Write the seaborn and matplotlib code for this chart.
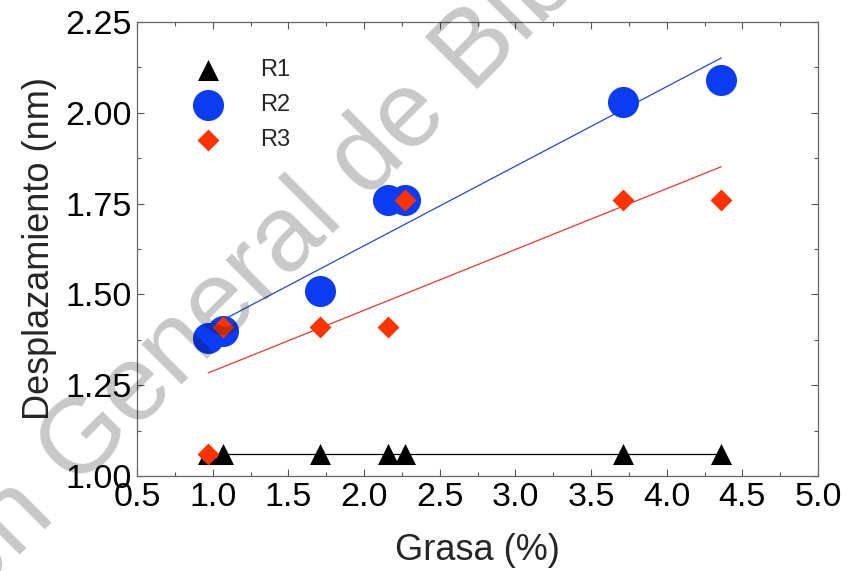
import numpy as np
import pandas as pd
import matplotlib
matplotlib.use("Agg")
import matplotlib.pyplot as plt
import seaborn as sns
from matplotlib.ticker import MultipleLocator, FormatStrFormatter

# data
grasa = [0.97, 1.07, 1.71, 2.16, 2.27, 3.71, 4.36]
r1 = [1.06, 1.06, 1.06, 1.06, 1.06, 1.06, 1.06]
r2 = [1.38, 1.40, 1.51, 1.76, 1.76, 2.03, 2.09]
r3 = [1.06, 1.41, 1.41, 1.41, 1.76, 1.76, 1.76]
series_names = ["R1", "R2", "R3"]

df = pd.DataFrame({"grasa": grasa, "R1": r1, "R2": r2, "R3": r3})

sns.set_theme(style="ticks")
plt.rcParams["font.family"] = ["Liberation Sans", "DejaVu Sans"]

fig = plt.figure(figsize=(8.46, 5.71), dpi=100)
ax = fig.add_axes([0.162, 0.1664, 0.805, 0.7951])

# marker / colour per series
styles = {
    "R1": dict(marker="^", s=230, color="black", line="black", z=3),
    "R2": dict(marker="o", s=500, color="#0b3cf2", line="#2a44d8", z=4),
    "R3": dict(marker="D", s=125, color="#ff3300", line="#e83a30", z=5),
}

for name in series_names:
    st = styles[name]
    sns.regplot(data=df, x="grasa", y=name, ax=ax, ci=None,
                marker=st["marker"],
                scatter_kws=dict(s=st["s"], color=st["color"], linewidths=0,
                                 alpha=1, zorder=st["z"], label=name),
                line_kws=dict(color=st["line"], lw=0.9, zorder=2))

ax.set_xlim(0.5, 5.0)
ax.set_ylim(1.0, 2.25)
ax.xaxis.set_major_locator(MultipleLocator(0.5))
ax.xaxis.set_minor_locator(MultipleLocator(0.25))
ax.yaxis.set_major_locator(MultipleLocator(0.25))
ax.yaxis.set_minor_locator(MultipleLocator(0.125))
ax.xaxis.set_major_formatter(FormatStrFormatter("%.1f"))
ax.yaxis.set_major_formatter(FormatStrFormatter("%.2f"))

ax.tick_params(which="both", direction="in", top=True, right=True,
               color="#555555", width=0.8)
ax.tick_params(which="major", length=5, labelsize=24.5, pad=4, labelcolor="black")
ax.tick_params(which="minor", length=3)
for sp in ax.spines.values():
    sp.set_visible(True)
    sp.set_color("#666666")
    sp.set_linewidth(0.9)

ax.set_xlabel("Grasa (%)", fontsize=26, labelpad=15)
ax.set_ylabel("Desplazamiento (nm)", fontsize=26, labelpad=6)

handles = ax.collections[:3]
leg = ax.legend(handles=handles, labels=series_names, loc="upper left",
                bbox_to_anchor=(0.052, 0.945), frameon=False, fontsize=17,
                labelspacing=0.55, handletextpad=1.2, borderpad=0)

# watermark
wm = dict(rotation=45, rotation_mode="anchor", va="baseline", fontsize=77,
          color="black", alpha=0.22, zorder=10)
x0, y0 = 76 / 846, 1 - 490 / 571
fig.text(x0, y0, "General de Bibliotecas", ha="left", **wm)
fig.text(x0 - 21 / 846, y0 - 21 / 571, "Dirección", ha="right", **wm)

fig.savefig("out.png", dpi=100)
